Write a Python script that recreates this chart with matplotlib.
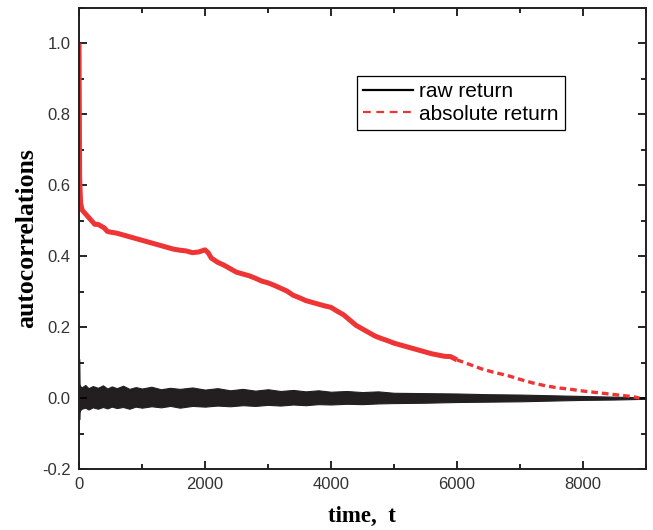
import matplotlib
matplotlib.use("Agg")
import matplotlib.pyplot as plt
from matplotlib.ticker import MultipleLocator
from matplotlib.lines import Line2D

# absolute return autocorrelation
t_abs = [0, 10, 25, 50, 100, 150, 200, 250, 300, 350, 400, 450, 500, 600, 700, 800, 900,
         1000, 1100, 1200, 1300, 1400, 1500, 1600, 1700, 1800, 1900, 2000, 2050, 2100,
         2200, 2300, 2400, 2500, 2600, 2700, 2800, 2900, 3000, 3100, 3200, 3300, 3400,
         3500, 3600, 3700, 3800, 3900, 4000, 4100, 4200, 4300, 4400, 4500, 4600, 4700,
         4800, 4900, 5000, 5200, 5400, 5600, 5800, 5900, 6000, 6200, 6400, 6600, 6800,
         7000, 7200, 7400, 7600, 7800, 8000, 8200, 8400, 8600, 8800, 8900]
acf_abs = [1.0, 0.62, 0.55, 0.53, 0.52, 0.51, 0.50, 0.49, 0.49, 0.485, 0.48, 0.47, 0.468,
           0.465, 0.46, 0.455, 0.45, 0.445, 0.44, 0.435, 0.43, 0.425, 0.42, 0.417, 0.415,
           0.41, 0.412, 0.418, 0.41, 0.395, 0.383, 0.375, 0.365, 0.355, 0.35, 0.345, 0.338,
           0.33, 0.325, 0.318, 0.31, 0.302, 0.29, 0.283, 0.275, 0.27, 0.265, 0.26, 0.256,
           0.245, 0.235, 0.22, 0.205, 0.195, 0.185, 0.175, 0.168, 0.162, 0.155, 0.145,
           0.135, 0.125, 0.118, 0.117, 0.108, 0.095, 0.082, 0.072, 0.064, 0.053, 0.043,
           0.035, 0.029, 0.025, 0.02, 0.016, 0.012, 0.008, 0.004, 0.0]

# raw return autocorrelation: noisy band, upper / lower envelope
t_raw = [0, 3, 8, 15, 40, 100, 150, 220, 300, 380, 450, 520, 600, 700, 800, 900, 1000,
         1150, 1300, 1450, 1600, 1800, 2000, 2200, 2400, 2600, 2800, 3000, 3200, 3400,
         3600, 3800, 4000, 4250, 4500, 4750, 5000, 5500, 6000, 6500, 7000, 7500, 8000,
         8500, 9000]
raw_hi = [0.11, 0.11, 0.04, 0.035, 0.03, 0.037, 0.028, 0.034, 0.029, 0.036, 0.027, 0.033,
          0.028, 0.035, 0.026, 0.031, 0.027, 0.032, 0.025, 0.029, 0.026, 0.03, 0.024,
          0.028, 0.022, 0.026, 0.021, 0.025, 0.02, 0.023, 0.019, 0.022, 0.018, 0.02,
          0.017, 0.019, 0.015, 0.014, 0.013, 0.011, 0.01, 0.008, 0.006, 0.004, 0.002]
raw_lo = [-0.03, -0.06, -0.04, -0.035, -0.03, -0.027, -0.032, -0.026, -0.03, -0.025,
          -0.029, -0.024, -0.028, -0.025, -0.03, -0.024, -0.027, -0.023, -0.026, -0.022,
          -0.027, -0.022, -0.024, -0.021, -0.023, -0.02, -0.022, -0.019, -0.021, -0.018,
          -0.02, -0.017, -0.018, -0.016, -0.017, -0.015, -0.014, -0.013, -0.011, -0.01,
          -0.009, -0.007, -0.005, -0.004, -0.002]

red = "#EE3434"
black = "#231F20"

fig = plt.figure(figsize=(6.53, 5.30), dpi=100)
ax = fig.add_axes([0.121, 0.115, 0.868, 0.870])

ax.fill_between(t_raw, raw_lo, raw_hi, color=black, linewidth=0.8, edgecolor=black)

split = 64  # index where the red curve becomes visibly dashed
ax.plot(t_abs[:split + 1], acf_abs[:split + 1], color=red, linewidth=3.6,
        solid_joinstyle="round", solid_capstyle="butt")
ax.plot(t_abs[split:], acf_abs[split:], color=red, linewidth=2.4,
        linestyle=(0, (2, 1.2)))

ax.set_xlim(0, 9000)
ax.set_ylim(-0.2, 1.1)
ax.xaxis.set_major_locator(MultipleLocator(2000))
ax.xaxis.set_minor_locator(MultipleLocator(1000))
ax.yaxis.set_major_locator(MultipleLocator(0.2))
ax.yaxis.set_minor_locator(MultipleLocator(0.1))
ax.yaxis.set_major_formatter(plt.FuncFormatter(lambda v, p: "%.1f" % v))
ax.tick_params(which="both", direction="in", top=True, right=True, width=1.2,
               labelsize=12, pad=6)
ax.tick_params(which="major", length=6)
ax.tick_params(which="minor", length=3.5)
for lab in ax.get_xticklabels() + ax.get_yticklabels():
    lab.set_fontfamily("Liberation Sans")
    lab.set_color("#333333")
for s in ax.spines.values():
    s.set_linewidth(1.4)
    s.set_color(black)

ax.set_xlabel("time,  t", fontfamily="Liberation Serif", fontweight="bold",
              fontsize=16.5, labelpad=10)
ax.set_ylabel("autocorrelations", fontfamily="Liberation Serif", fontweight="bold",
              fontsize=18.5, labelpad=3)

handles = [Line2D([], [], color="black", linewidth=1.6),
           Line2D([], [], color=red, linewidth=1.6, linestyle=(0, (3.5, 2.5)))]
leg = ax.legend(handles, ["raw return", "absolute return"],
                loc="upper left", bbox_to_anchor=(0.490, 0.852),
                prop={"family": "Liberation Sans", "size": 15},
                fancybox=False, framealpha=1, edgecolor="black",
                handlelength=2.4, handletextpad=0.3, borderpad=0.3,
                labelspacing=0.15, borderaxespad=0)
leg.get_frame().set_linewidth(0.9)

fig.savefig("out.png", dpi=100)
